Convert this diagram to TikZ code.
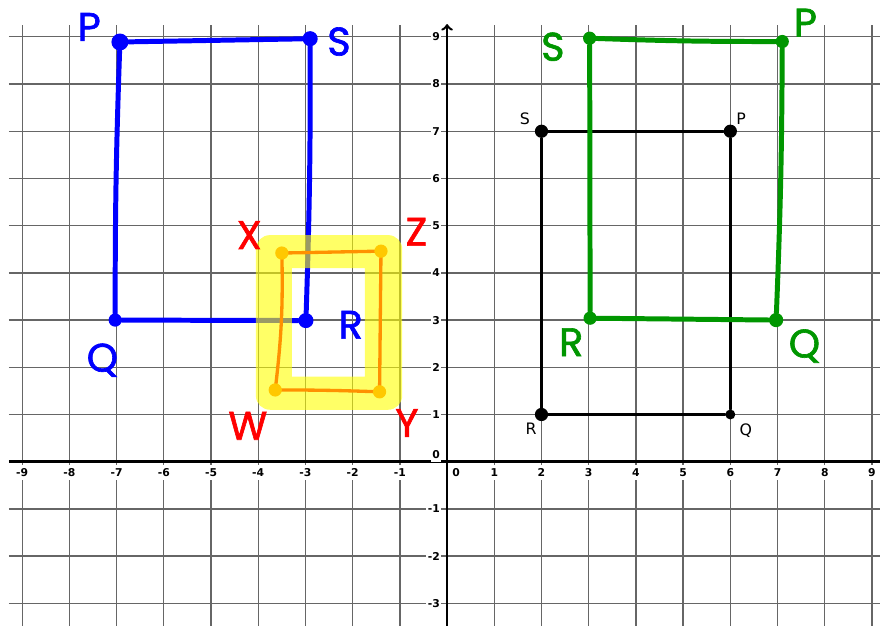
\documentclass[tikz,border=0pt]{standalone}
\usepackage{fontspec}
\newfontfamily\tickfont{DejaVu Sans}
\newfontfamily\handfont[FakeBold=1.6]{Poppins}
\definecolor{penBlue}{RGB}{0,0,255}
\definecolor{penGreen}{RGB}{0,150,0}
\definecolor{penRed}{RGB}{255,0,0}
\definecolor{penOrange}{RGB}{255,145,0}
\definecolor{penGold}{RGB}{255,200,0}
\definecolor{hiYellow}{RGB}{255,255,0}

\begin{document}
\begin{tikzpicture}[
    gridline/.style={black!60, line width=0.8pt},
    axis/.style={black, line width=1.5pt},
    ticklbl/.style={fill=white, inner xsep=0.8pt, inner ysep=2pt, font=\tickfont\bfseries\fontsize{6.5}{7}\selectfont},
    ptlbl/.style={font=\tickfont\fontsize{9.5}{10}\selectfont},
    dot/.style={circle, fill, inner sep=0pt, minimum size=#1},
    dot/.default=0.28cm,
    hand/.style={font=\handfont\fontsize{24}{24}\selectfont},
    pen/.style={line width=3pt, line cap=round, line join=round},
    thinpen/.style={line width=2pt, line cap=round, line join=round},
    highlight/.style={fill=hiYellow, opacity=0.6, even odd rule}
]
\fill[white] (-9.47,-3.48) rectangle (9.17,9.78);
\useasboundingbox (-9.47,-3.48) rectangle (9.17,9.78);

% grid and axes
\draw[gridline] (-9.28,-3.48) grid (9.17,9.25);
\draw[axis] (-9.28,0) -- (9.17,0);
\draw[axis, ->] (0,-3.48) -- (0,9.27);
\foreach \x in {-9,...,-1,1,2,...,9}
    \node[ticklbl] (xt\x) at (\x,-0.23) {\x};
\node[ticklbl] (xt0) at (0.19,-0.23) {0};
\foreach \y in {-3,...,-1,1,2,...,9}
    \node[ticklbl, anchor=east] (yt\y) at (-0.12,\y) {\y};
\node[ticklbl, anchor=east] (yt0) at (-0.12,0.15) {0};

% original rectangle
\node[dot] (kS) at (2,7) {};
\node[dot] (kP) at (6,7) {};
\node[dot=0.21cm] (kQ) at (6,1) {};
\node[dot] (kR) at (2,1) {};
\draw[thinpen] (kS) -- (kP) -- (kQ) -- (kR) -- (kS);
\node[ptlbl] (kSlbl) at (1.65,7.26) {S};
\node[ptlbl] (kPlbl) at (6.23,7.26) {P};
\node[ptlbl] (kRlbl) at (1.78,0.69) {R};
\node[ptlbl] (kQlbl) at (6.33,0.65) {Q};

% green rectangle
\node[dot, penGreen] (gS) at (3.02,8.97) {};
\node[dot, penGreen] (gP) at (7.10,8.90) {};
\node[dot=0.30cm, penGreen] (gQ) at (6.97,3.00) {};
\node[dot, penGreen] (gR) at (3.03,3.04) {};
\foreach \a/\b/\bend in {gS/gP/-1, gP/gQ/1, gQ/gR/0, gR/gS/0}
    \draw[pen, penGreen] (\a) to[bend left=\bend] (\b);
\node[hand, penGreen] (gSlbl) at (2.24,8.79) {S};
\node[hand, penGreen] (gPlbl) at (7.59,9.30) {P};
\node[hand, penGreen] (gRlbl) at (2.63,2.53) {R};
\node[hand, penGreen] (gQlbl) at (7.57,2.45) {Q};

% blue rectangle
\node[dot=0.36cm, penBlue] (bP) at (-6.93,8.89) {};
\node[dot=0.32cm, penBlue] (bS) at (-2.90,8.96) {};
\node[dot=0.32cm, penBlue] (bR) at (-2.99,2.99) {};
\node[dot=0.28cm, penBlue] (bQ) at (-7.03,3.00) {};
\foreach \a/\b/\bend in {bP/bS/0, bS/bR/1, bR/bQ/0, bQ/bP/1}
    \draw[pen, penBlue] (\a) to[bend left=\bend] (\b);
\node[hand, penBlue] (bPlbl) at (-7.58,9.21) {P};
\node[hand, penBlue] (bSlbl) at (-2.29,8.90) {S};
\node[hand, penBlue] (bRlbl) at (-2.04,2.90) {R};
\node[hand, penBlue] (bQlbl) at (-7.30,2.15) {Q};

% highlighted image
\fill[highlight] [rounded corners=0.3cm] (-4.05,1.10) rectangle (-0.95,4.80)
    [sharp corners] (-3.29,1.80) rectangle (-1.74,4.10);
\coordinate (oX) at (-3.50,4.42);
\coordinate (oZ) at (-1.40,4.46);
\coordinate (oY) at (-1.43,1.48);
\coordinate (oW) at (-3.64,1.52);
\draw[thinpen, penOrange] (oX) -- (oZ) -- (oY) to[bend right=1] (oW) to[bend right=4] (oX);
\foreach \c in {oX,oZ,oY,oW}
    \node[dot, penGold] (\c dot) at (\c) {};
\node[hand, penRed] (Xlbl) at (-4.19,4.80) {X};
\node[hand, penRed] (Zlbl) at (-0.65,4.87) {Z};
\node[hand, penRed] (Wlbl) at (-4.22,0.76) {W};
\node[hand, penRed] (Ylbl) at (-0.85,0.82) {Y};

\end{tikzpicture}
\end{document}
